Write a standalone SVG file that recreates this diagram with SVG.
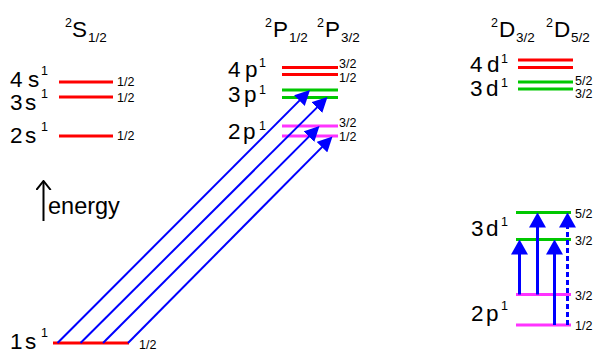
<svg xmlns="http://www.w3.org/2000/svg" width="595" height="351" viewBox="0 0 595 351">
<style>
text{font-family:"Liberation Sans",Arial,sans-serif;fill:#000}
.big{font-size:22.5px}
.sup{font-size:12.5px}
.sub{font-size:13.5px}
.j{font-size:12.5px}
.lvl{stroke-width:3;fill:none}
.red{stroke:#ff0000}
.grn{stroke:#00c800}
.mag{stroke:#ff33ff}
.diag{stroke:#0000ff;stroke-width:2;fill:none}
.vert{stroke:#0000ff;stroke-width:3;fill:none}
</style>
<defs>
<marker id="hd" viewBox="0 0 15 15" refX="12" refY="7.5" markerWidth="15" markerHeight="15" markerUnits="userSpaceOnUse" orient="auto">
<path d="M0,0 L15,7.5 L0,15 z" fill="#0000ff"/>
</marker>
<marker id="hv" viewBox="0 0 15 17" refX="11" refY="8.5" markerWidth="15" markerHeight="17" markerUnits="userSpaceOnUse" orient="auto">
<path d="M0,0 L15,8.5 L0,17 z" fill="#0000ff"/>
</marker>
<marker id="open" viewBox="0 0 10 16" refX="9" refY="8" markerWidth="10" markerHeight="16" markerUnits="userSpaceOnUse" orient="auto">
<path d="M0,0.8 L9,8 L0,15.2" fill="none" stroke="#000" stroke-width="2"/>
</marker>
</defs>

<g id="titles">
<text class="sup" x="65" y="27">2</text><text class="big" x="72" y="37">S</text><text class="sub" x="88" y="42">1/2</text>
<text class="sup" x="265" y="27">2</text><text class="big" x="273" y="37">P</text><text class="sub" x="289" y="42">1/2</text>
<text class="sup" x="317" y="27">2</text><text class="big" x="325" y="37">P</text><text class="sub" x="341" y="42">3/2</text>
<text class="sup" x="491" y="27">2</text><text class="big" x="499" y="37">D</text><text class="sub" x="516" y="42">3/2</text>
<text class="sup" x="546" y="27">2</text><text class="big" x="554" y="37">D</text><text class="sub" x="571" y="42">5/2</text>
</g>

<g id="energy">
<line x1="43.5" y1="221" x2="43.5" y2="181" stroke="#000" stroke-width="2" marker-end="url(#open)"/>
<text x="48" y="214" style="font-size:23.5px">energy</text>
</g>

<g id="s4">
<text class="big" x="10" y="87">4</text><text class="big" x="28" y="87">s</text><text class="sup" x="41" y="75">1</text>
<line class="lvl red" x1="59" y1="82" x2="113" y2="82"/>
<text class="j" x="117" y="86">1/2</text>
</g>
<g id="s3">
<text class="big" x="10" y="110">3</text><text class="big" x="25" y="110">s</text><text class="sup" x="41" y="98">1</text>
<line class="lvl red" x1="59" y1="97" x2="113" y2="97"/>
<text class="j" x="117" y="102">1/2</text>
</g>
<g id="s2">
<text class="big" x="10" y="143">2</text><text class="big" x="25" y="143">s</text><text class="sup" x="41" y="131">1</text>
<line class="lvl red" x1="59" y1="136" x2="113" y2="136"/>
<text class="j" x="117" y="140">1/2</text>
</g>
<g id="s1">
<text class="big" x="10" y="349">1</text><text class="big" x="25" y="349">s</text><text class="sup" x="41" y="337">1</text>
<line class="lvl red" x1="53" y1="343" x2="129" y2="343"/>
<text class="j" x="139" y="349">1/2</text>
</g>

<g id="p4">
<text class="big" x="228" y="77">4</text><text class="big" x="245" y="77">p</text><text class="sup" x="259" y="67">1</text>
<line class="lvl red" x1="282" y1="67.5" x2="338" y2="67.5"/>
<line class="lvl red" x1="282" y1="74.5" x2="338" y2="74.5"/>
<text class="j" x="339" y="68">3/2</text>
<text class="j" x="339" y="82">1/2</text>
</g>
<g id="p3">
<text class="big" x="228" y="102">3</text><text class="big" x="244" y="102">p</text><text class="sup" x="259" y="94">1</text>
<line class="lvl grn" x1="282" y1="90" x2="338" y2="90"/>
<line class="lvl grn" x1="282" y1="97.5" x2="338" y2="97.5"/>
</g>
<g id="p2">
<text class="big" x="228" y="139">2</text><text class="big" x="243" y="139">p</text><text class="sup" x="259" y="130">1</text>
<line class="lvl mag" x1="282" y1="126" x2="338" y2="126"/>
<line class="lvl mag" x1="282" y1="136" x2="338" y2="136"/>
<text class="j" x="339" y="127">3/2</text>
<text class="j" x="339" y="141">1/2</text>
</g>

<g id="d4">
<text class="big" x="470" y="72">4</text><text class="big" x="487" y="72">d</text><text class="sup" x="501" y="63">1</text>
<line class="lvl red" x1="518" y1="60" x2="573" y2="60"/>
<line class="lvl red" x1="518" y1="67.5" x2="573" y2="67.5"/>
</g>
<g id="d3">
<text class="big" x="470" y="96">3</text><text class="big" x="486" y="96">d</text><text class="sup" x="501" y="87">1</text>
<line class="lvl grn" x1="518" y1="82" x2="573" y2="82"/>
<line class="lvl grn" x1="518" y1="89" x2="573" y2="89"/>
<text class="j" x="575" y="85">5/2</text>
<text class="j" x="575" y="98">3/2</text>
</g>

<g id="d3b">
<text class="big" x="471" y="236">3</text><text class="big" x="486" y="236">d</text><text class="sup" x="501" y="226">1</text>
<line class="lvl grn" x1="516" y1="212.5" x2="571" y2="212.5"/>
<line class="lvl grn" x1="516" y1="239.5" x2="571" y2="239.5"/>
<text class="j" x="575" y="218">5/2</text>
<text class="j" x="575" y="245">3/2</text>
</g>
<g id="p2b">
<text class="big" x="471" y="321">2</text><text class="big" x="486" y="321">p</text><text class="sup" x="501" y="310">1</text>
<line class="lvl mag" x1="516" y1="294.5" x2="571" y2="294.5"/>
<line class="lvl mag" x1="516" y1="325" x2="571" y2="325"/>
<text class="j" x="575" y="300">3/2</text>
<text class="j" x="575" y="330">1/2</text>
</g>

<g id="connectors">
<line class="diag" x1="57.5" y1="343" x2="307.9" y2="92.1" marker-end="url(#hd)"/>
<line class="diag" x1="80.5" y1="343" x2="325.4" y2="99.1" marker-end="url(#hd)"/>
<line class="diag" x1="103" y1="343" x2="317.4" y2="128.1" marker-end="url(#hd)"/>
<line class="diag" x1="128" y1="343" x2="330.4" y2="138.6" marker-end="url(#hd)"/>
<line class="vert" x1="519.5" y1="294.5" x2="519.5" y2="243.5" marker-end="url(#hv)"/>
<line class="vert" x1="537.5" y1="294.5" x2="537.5" y2="216.5" marker-end="url(#hv)"/>
<line class="vert" x1="554.5" y1="325" x2="554.5" y2="243.5" marker-end="url(#hv)"/>
<line class="vert" x1="567.5" y1="325" x2="567.5" y2="216.5" stroke-dasharray="5,3" marker-end="url(#hv)"/>
</g>
</svg>
